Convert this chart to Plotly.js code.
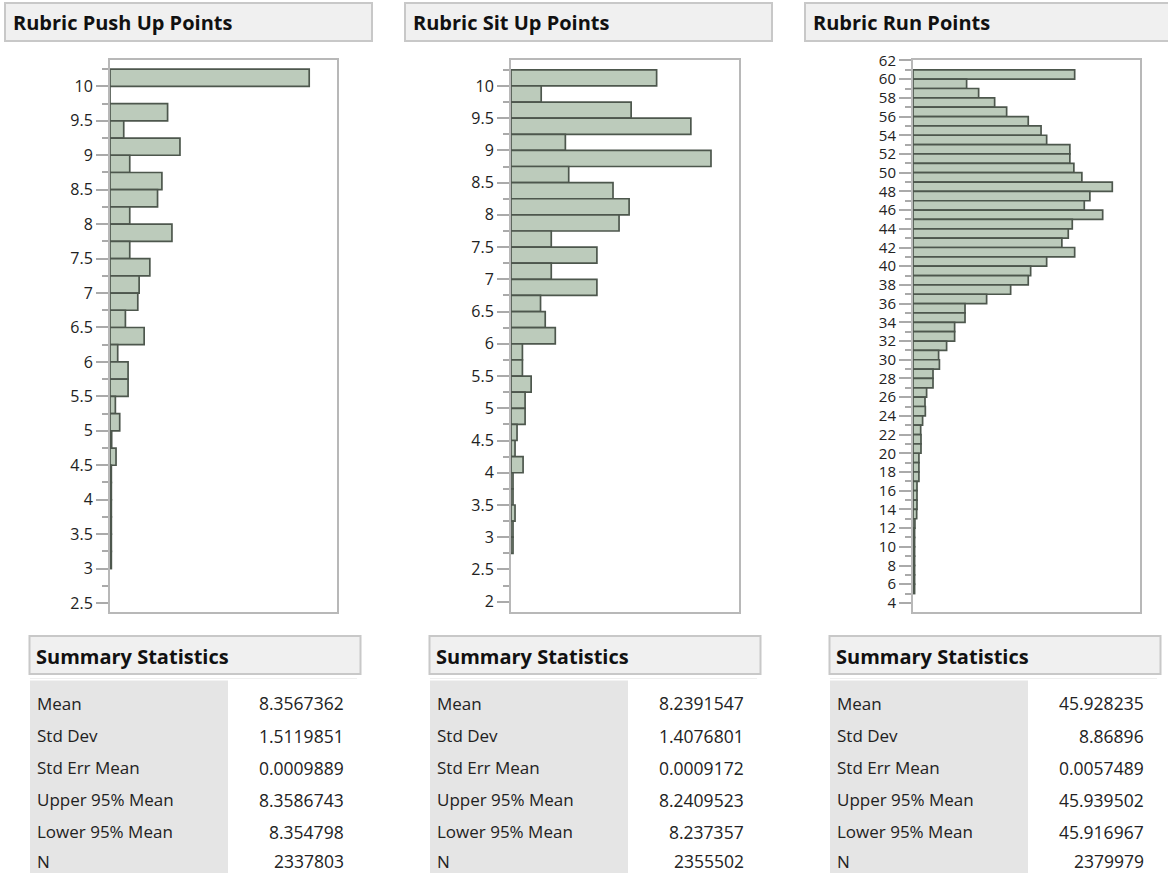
<!DOCTYPE html>
<html>
<head>
<meta charset="utf-8">
<script src="https://cdn.plot.ly/plotly-3.0.1.min.js"></script>
<style>
html,body{margin:0;padding:0;background:#fff;}
#chart{width:1168px;height:873px;}
</style>
</head>
<body>
<div id="chart"></div>
<script>
// ---------- data (counts in thousands) ----------
const panelTitles = ["Rubric Push Up Points", "Rubric Sit Up Points", "Rubric Run Points"];

const pushBins = [10.125, 9.875, 9.625, 9.375, 9.125, 8.875, 8.625, 8.375, 8.125, 7.875,
  7.625, 7.375, 7.125, 6.875, 6.625, 6.375, 6.125, 5.875, 5.625, 5.375,
  5.125, 4.875, 4.625, 4.375, 4.125, 3.875, 3.625, 3.375, 3.125];
const pushCounts = [595, 0, 172, 41, 209, 59, 155, 142, 59, 185,
  59, 119, 87, 83, 46, 102, 23, 54, 54, 16,
  29, 5, 18, 4, 4, 4, 4, 4, 4];

const situpBins = [10.125, 9.875, 9.625, 9.375, 9.125, 8.875, 8.625, 8.375, 8.125, 7.875,
  7.625, 7.375, 7.125, 6.875, 6.625, 6.375, 6.125, 5.875, 5.625, 5.375,
  5.125, 4.875, 4.625, 4.375, 4.125, 3.875, 3.625, 3.375, 3.125, 2.875];
const situpCounts = [217, 45, 179, 268, 81, 298, 86, 152, 176, 161,
  60, 128, 60, 128, 44, 51, 66, 17, 17, 30,
  21, 21, 9, 6, 18, 3, 3, 6, 3, 3];

const runBins = [60.5, 59.5, 58.5, 57.5, 56.5, 55.5, 54.5, 53.5, 52.5, 51.5,
  50.5, 49.5, 48.5, 47.5, 46.5, 45.5, 44.5, 43.5, 42.5, 41.5,
  40.5, 39.5, 38.5, 37.5, 36.5, 35.5, 34.5, 33.5, 32.5, 31.5,
  30.5, 29.5, 28.5, 27.5, 26.5, 25.5, 24.5, 23.5, 22.5, 21.5,
  20.5, 19.5, 18.5, 17.5, 16.5, 15.5, 14.5, 13.5, 12.5, 11.5,
  10.5, 9.5, 8.5, 7.5, 6.5, 5.5];
const runCounts = [101, 33.5, 41, 51, 58.5, 72, 80, 83.5, 98, 98,
  100.5, 105.5, 124.5, 110.5, 107, 118.5, 99.5, 97, 93, 101,
  83.5, 73.5, 72, 61, 46, 32.5, 32.5, 26, 26, 21,
  16, 16.5, 12.5, 12.5, 8.5, 7.5, 7.7, 6, 4.8, 5,
  5, 3.7, 3.7, 3.7, 2.5, 2.5, 2.5, 2.3, 1.2, 1,
  1, 1, 1, 1, 1, 1];

const statLabels = ["Mean", "Std Dev", "Std Err Mean", "Upper 95% Mean", "Lower 95% Mean", "N"];
const pushStats = ["8.3567362", "1.5119851", "0.0009889", "8.3586743", "8.354798", "2337803"];
const situpStats = ["8.2391547", "1.4076801", "0.0009172", "8.2409523", "8.237357", "2355502"];
const runStats = ["45.928235", "8.86896", "0.0057489", "45.939502", "45.916967", "2379979"];

// ---------- layout helpers ----------
const W = 1168, H = 873;
const px = x => x / W;
const py = y => 1 - y / H;

const FILL = "#bccbbb", EDGE = "#4d574d";
const FONT = "Open Sans, Noto Sans, sans-serif";

const panels = [
  {off: 0, bins: pushBins, counts: pushCounts, width: 0.25, xmax: 678, yr: [2.37, 10.39], dtick: 0.5, minor: 0.25, tsize: 16, stats: pushStats, plot: [110, 337]},
  {off: 400, bins: situpBins, counts: situpCounts, width: 0.25, xmax: 339, yr: [1.84, 10.41], dtick: 0.5, minor: 0.25, tsize: 16, stats: situpStats, plot: [511, 738.5]},
  {off: 800, bins: runBins, counts: runCounts, width: 1, xmax: 141.5, yr: [3.03, 62.1], dtick: 2, minor: 1, tsize: 15, stats: runStats, plot: [913, 1139.5]}
];

const traces = [];
const layout = {
  width: W, height: H,
  margin: {l: 0, r: 0, t: 0, b: 0},
  paper_bgcolor: "#fff", plot_bgcolor: "#fff",
  showlegend: false,
  shapes: [], annotations: [],
  font: {family: FONT, color: "#222"}
};

const plotTop = 59.5, plotBottom = 612;

panels.forEach((p, i) => {
  const n = i === 0 ? "" : String(i + 1);
  traces.push({
    type: "bar", orientation: "h",
    x: p.counts, y: p.bins,
    width: p.bins.map(() => p.width),
    base: 0,
    marker: {color: FILL, line: {color: EDGE, width: 1.7}},
    xaxis: "x" + n, yaxis: "y" + n,
    hoverinfo: "skip"
  });
  layout["xaxis" + n] = {
    domain: [px(p.plot[0]), px(p.plot[1])],
    range: [0, p.xmax],
    anchor: "y" + n,
    showgrid: false, zeroline: false,
    showticklabels: false, ticks: "",
    showline: true, mirror: true, linecolor: "#b8b8b8", linewidth: 2,
    fixedrange: true
  };
  layout["yaxis" + n] = {
    domain: [py(plotBottom), py(plotTop)],
    range: p.yr,
    anchor: "x" + n,
    tick0: 0, dtick: p.dtick,
    ticks: "outside", ticklen: 12, tickwidth: 2, tickcolor: "#aaaaaa",
    minor: {dtick: p.minor, tick0: 0, ticks: "outside", ticklen: 6, tickwidth: 2, tickcolor: "#aaaaaa", showgrid: false},
    showgrid: false, zeroline: false,
    showline: true, mirror: true, linecolor: "#b8b8b8", linewidth: 2,
    tickfont: {family: FONT, size: p.tsize, color: "#222"},
    ticklabelstandoff: 0,
    fixedrange: true
  };

  const o = p.off;
  // panel header
  layout.shapes.push({type: "rect", xref: "paper", yref: "paper",
    x0: px(5 + o), x1: px(372 + o), y0: py(41), y1: py(3),
    fillcolor: "#f0f0f0", line: {color: "#c8c8c8", width: 2}, layer: "below"});
  layout.annotations.push({xref: "paper", yref: "paper", x: px(11 + o), y: py(22),
    xanchor: "left", yanchor: "middle", showarrow: false,
    text: "<b>" + panelTitles[i] + "</b>", font: {family: FONT, size: 20, color: "#111"}});

  // summary statistics header
  layout.shapes.push({type: "rect", xref: "paper", yref: "paper",
    x0: px(29.5 + o), x1: px(360.5 + o), y0: py(674), y1: py(636),
    fillcolor: "#f0f0f0", line: {color: "#c8c8c8", width: 2}, layer: "below"});
  layout.annotations.push({xref: "paper", yref: "paper", x: px(34 + o), y: py(656),
    xanchor: "left", yanchor: "middle", showarrow: false,
    text: "<b>Summary Statistics</b>", font: {family: FONT, size: 20, color: "#111"}});
  // faint separator
  layout.shapes.push({type: "line", xref: "paper", yref: "paper",
    x0: px(30 + o), x1: px(357 + o), y0: py(678.5), y1: py(678.5),
    line: {color: "#efefef", width: 1}, layer: "below"});
  // shaded label column
  layout.shapes.push({type: "rect", xref: "paper", yref: "paper",
    x0: px(30 + o), x1: px(228 + o), y0: py(873), y1: py(680.5),
    fillcolor: "#e5e5e5", line: {width: 0}, layer: "below"});

  const rowY = [703, 735.5, 767.5, 799.5, 831.5, 861];
  statLabels.forEach((lab, k) => {
    layout.annotations.push({xref: "paper", yref: "paper", x: px(35 + o), y: py(rowY[k]),
      xanchor: "left", yanchor: "middle", showarrow: false,
      text: lab, font: {family: FONT, size: 17, color: "#222"}});
    layout.annotations.push({xref: "paper", yref: "paper", x: px(346 + o), y: py(rowY[k]),
      xanchor: "right", yanchor: "middle", showarrow: false,
      text: p.stats[k], font: {family: FONT, size: 17.5, color: "#222"}});
  });
});

Plotly.newPlot("chart", traces, layout, {staticPlot: true, displayModeBar: false});
</script>
</body>
</html>
